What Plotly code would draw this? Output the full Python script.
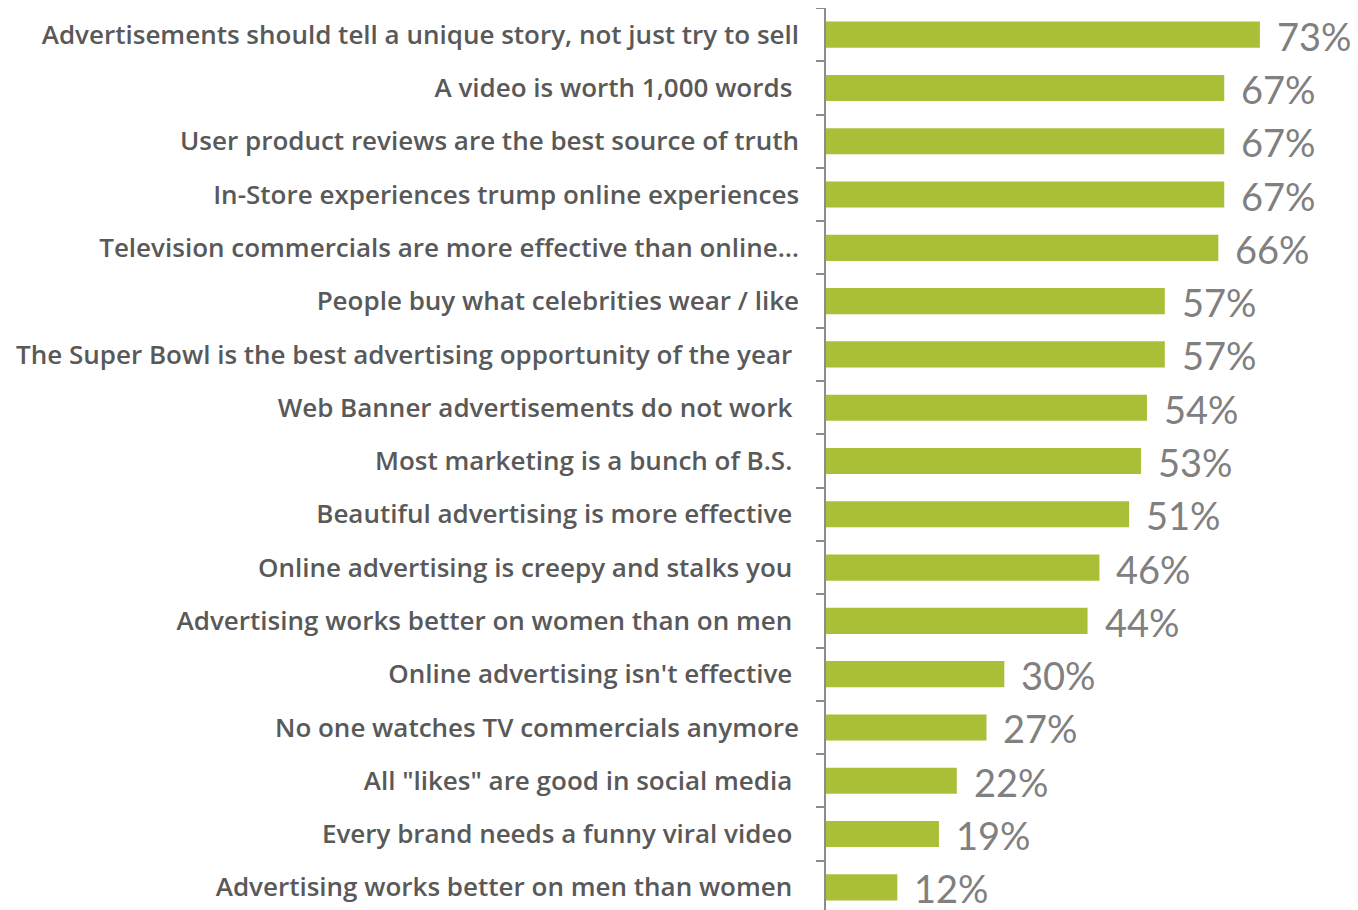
import plotly.graph_objects as go

categories = [
    "Advertisements should tell a unique story, not just try to sell",
    "A video is worth 1,000 words\u00a0",
    "User product reviews are the best source of truth",
    "In-Store experiences trump online experiences",
    "Television commercials are more effective than online…",
    "People buy what celebrities wear / like",
    "The Super Bowl is the best advertising opportunity of the year\u00a0",
    "Web Banner advertisements do not work\u00a0",
    "Most marketing is a bunch of B.S.\u00a0",
    "Beautiful advertising is more effective\u00a0",
    "Online advertising is creepy and stalks you\u00a0",
    "Advertising works better on women than on men\u00a0",
    "Online advertising isn't effective\u00a0",
    "No one watches TV commercials anymore",
    "All \"likes\" are good in social media\u00a0",
    "Every brand needs a funny viral video\u00a0",
    "Advertising works better on men than women\u00a0",
]
values = [73, 67, 67, 67, 66, 57, 57, 54, 53, 51, 46, 44, 30, 27, 22, 19, 12]
value_labels = [f"{v}%" for v in values]

BAR = "#aabe38"
LABEL = "#595959"
VALUE = "#808080"
AXIS = "#8c8c8c"

fig = go.Figure()
fig.add_trace(go.Bar(
    x=values, y=categories, orientation="h",
    marker=dict(color=BAR, line=dict(width=0)),
    hoverinfo="skip",
))

for c, v, t in zip(categories, values, value_labels):
    fig.add_annotation(
        x=v, y=c, text=t, showarrow=False, xanchor="left", yanchor="middle",
        xshift=15, yshift=-1,
        font=dict(family="Lato", size=38, color=VALUE),
    )

fig.update_layout(
    width=1350, height=902,
    margin=dict(l=818, r=0, t=0, b=0),
    paper_bgcolor="white", plot_bgcolor="white",
    bargap=0.51,
    showlegend=False,
    xaxis=dict(range=[0, 89.5], visible=False, fixedrange=True),
    yaxis=dict(
        type="category",
        range=[16.425, -0.5],
        showline=True, linecolor=AXIS, linewidth=1.5,
        ticks="outside", ticklen=8, tickcolor=AXIS, tickwidth=1.5,
        tickson="boundaries",
        showgrid=False,
        ticklabelstandoff=20,
        tickfont=dict(family="Open Sans", size=26, color=LABEL, weight=600),
        automargin=False,
    ),
)

fig.write_html("out.html")
